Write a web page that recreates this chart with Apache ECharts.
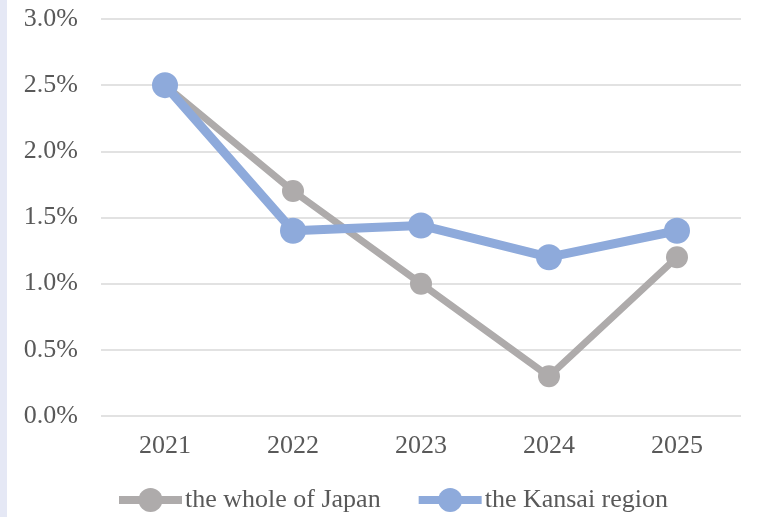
<!DOCTYPE html>
<html><head><meta charset="utf-8">
<script src="https://cdn.jsdelivr.net/npm/echarts@6/dist/echarts.min.js"></script>
<style>
html,body{margin:0;padding:0;background:#fff;}
#strip{position:absolute;left:0;top:0;width:7px;height:517px;background:#e5e8f5;}
#c{position:absolute;left:0;top:0;width:758px;height:517px;}
</style></head>
<body><div id="strip"></div><div id="c"></div>
<script>
const categories = ['2021','2022','2023','2024','2025'];
const japan = [2.5, 1.7, 1.0, 0.3, 1.2];
const kansai = [2.5, 1.4, 1.44, 1.2, 1.4];
const yTicks = [0, 0.5, 1.0, 1.5, 2.0, 2.5, 3.0];

const chart = echarts.init(document.getElementById('c'), null, {renderer:'canvas'});
const font = 'Liberation Serif';
const gray = '#aeabab', blue = '#8eaadb';
chart.setOption({
  animation:false,
  backgroundColor:'transparent',
  grid:{left:101,right:17,top:19,bottom:101},
  xAxis:{type:'category',data:categories,boundaryGap:true,
    axisLine:{show:false},axisTick:{show:false},
    axisLabel:{color:'#595959',fontFamily:font,fontSize:26,margin:17}},
  yAxis:{type:'value',min:yTicks[0],max:yTicks[yTicks.length-1],interval:0.5,
    axisLine:{show:false},axisTick:{show:false},
    splitLine:{lineStyle:{color:'#d9d9d9',width:1.5}},
    axisLabel:{color:'#595959',fontFamily:font,fontSize:26,margin:23,
      formatter:v=>v.toFixed(1)+'%'}},
  legend:{top:487,left:115,padding:0,itemWidth:63,itemHeight:30,itemGap:34,
    textStyle:{color:'#595959',fontFamily:font,fontSize:26,padding:[0,0,0,-2]},
    data:[
      {name:'the whole of Japan',lineStyle:{width:8,color:gray}},
      {name:'the Kansai region',lineStyle:{width:8,color:blue}}
    ]},
  series:[
    {name:'the whole of Japan',type:'line',data:japan,symbol:'circle',symbolSize:22,
      lineStyle:{color:gray,width:7},itemStyle:{color:gray},z:2},
    {name:'the Kansai region',type:'line',data:kansai,symbol:'circle',symbolSize:26,
      lineStyle:{color:blue,width:9},itemStyle:{color:blue},z:3}
  ]
});
</script></body></html>
